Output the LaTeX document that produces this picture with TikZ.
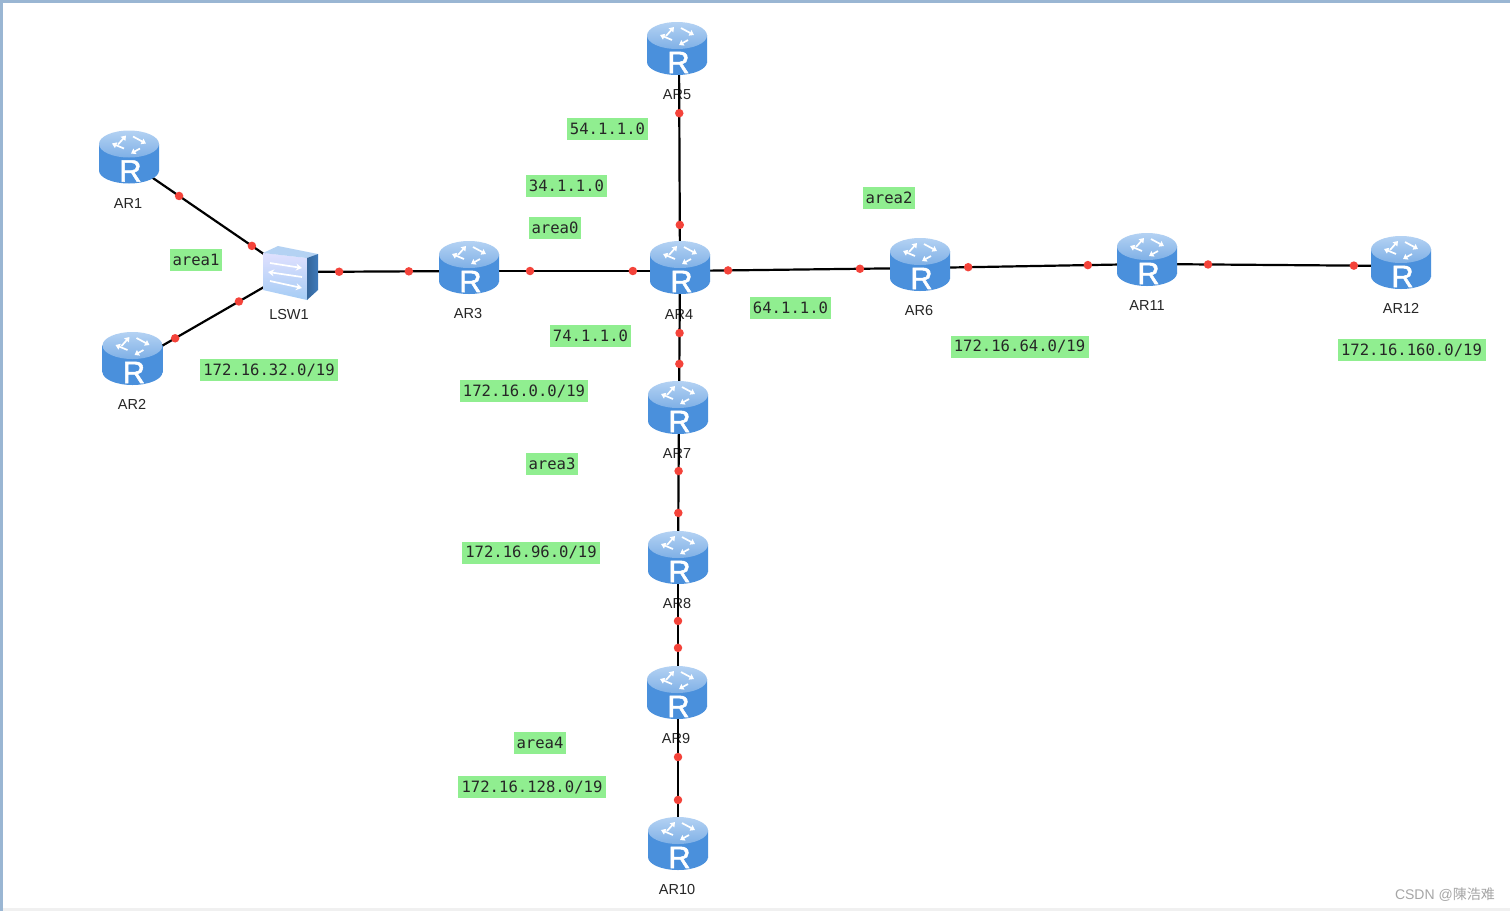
\documentclass[tikz,border=0pt]{standalone}
\usepackage{fontspec}
\setmainfont{Liberation Sans}
\newfontfamily\monofam{DejaVu Sans Mono}
\newfontfamily\cjkfam{Noto Sans CJK SC}
\newfontfamily\rfam[FakeBold=1.6]{Liberation Sans}
\usetikzlibrary{arrows.meta}
\definecolor{linkred}{HTML}{F4433A}
\definecolor{netgreen}{HTML}{90EE90}
\definecolor{framecol}{HTML}{9AB6D3}
\definecolor{rbase}{HTML}{4A90DC}
\definecolor{rmid}{HTML}{7DB6F0}
\definecolor{rtop}{HTML}{B4D2F3}
\definecolor{rtopb}{HTML}{7FB0E6}
\tikzset{
    pics/router/.style = {code = {
        \begin{scope}[shift={(-2,-3)}]
        \shade[left color=rbase, middle color=rmid, right color=rbase]
            (-30,-13.5) rectangle (30,13);
        \shade[left color=rbase, middle color=rmid, right color=rbase]
            (0,13) ellipse (30 and 13);
        \shade[top color=rtop, bottom color=rtopb] (0,-13.5) ellipse (30 and 13.5);
        \draw[rarrow] (-11,-13) -- (-3,-22);
        \draw[rarrow] (4,-21) -- (17,-14);
        \draw[rarrow] (11,-9) -- (2,-4);
        \draw[rarrow] (-5,-9) -- (-17,-14);
        \node[white, inner sep=0, font=\fontsize{31}{31}\rfam] (-r) at (1.5,13.5) {R};
        \end{scope}
    }},
    rarrow/.style = {white, line width=1.7pt, -{Triangle[width=6pt,length=4.5pt]}}
}
\begin{document}
\begin{tikzpicture}[
    x = 1pt, y = -1pt,
    hub/.style = {inner sep=0, minimum size=0},
    devname/.style = {inner sep=0, yshift=-.7pt, text=black!85, font=\fontsize{14.5}{16}\selectfont},
    net/.style = {fill=netgreen, inner sep=0, minimum height=22, text=black!85,
        text width=#1pt, align=center, font=\fontsize{15.6}{16}\monofam},
    link/.style = {black, line width=2.2pt},
    dot/.style = {circle, fill=linkred, inner sep=0, minimum size=8.5},
    swarrow/.style = {white, line width=1.7pt, >={Stealth[length=6pt,width=7pt]}}
    ]
    \useasboundingbox (0,0) rectangle (1510,911);
    \fill[white] (0,0) rectangle (1510,911);
    \fill[black!6] (0,908) rectangle (1510,911);
    \fill[framecol] (0,0) rectangle (1510,2.5);
    \fill[framecol] (0,0) rectangle (2.5,911);

    %nodes
    \node[hub] (AR1) at (131,163) {};
    \node[hub] (AR2) at (134,362) {};
    \node[hub] (LSW1) at (290,272) {};
    \node[hub] (AR3) at (471,271) {};
    \node[hub] (AR4) at (680,271) {};
    \node[hub] (AR5) at (679,52) {};
    \node[hub] (AR6) at (922,268) {};
    \node[hub] (AR7) at (679,411) {};
    \node[hub] (AR8) at (678,561) {};
    \node[hub] (AR9) at (678,696) {};
    \node[hub] (AR10) at (678,847) {};
    \node[hub] (AR11) at (1149,264) {};
    \node[hub] (AR12) at (1403,266) {};

    % names
    \node[devname] (nAR1) at (128,203) {AR1};
    \node[devname] (nAR2) at (132,404) {AR2};
    \node[devname] (nLSW1) at (289,314) {LSW1};
    \node[devname] (nAR3) at (468,313) {AR3};
    \node[devname] (nAR4) at (679,314) {AR4};
    \node[devname] (nAR5) at (677,94) {AR5};
    \node[devname] (nAR6) at (919,310) {AR6};
    \node[devname] (nAR7) at (677,453) {AR7};
    \node[devname] (nAR8) at (677,603) {AR8};
    \node[devname] (nAR9) at (676,738) {AR9};
    \node[devname] (nAR10) at (677,889) {AR10};
    \node[devname] (nAR11) at (1147,305) {AR11};
    \node[devname] (nAR12) at (1401,308) {AR12};

    % networks
    \node[net=81] (n54) at (607.5,129) {54.1.1.0};
    \node[net=81] (n34) at (566.5,186) {34.1.1.0};
    \node[net=81] (n64) at (790.5,307.5) {64.1.1.0};
    \node[net=81] (n74) at (590.5,336) {74.1.1.0};
    \node[net=52] (area0) at (555,228) {area0};
    \node[net=52] (area1) at (196,260) {area1};
    \node[net=52] (area2) at (889,198) {area2};
    \node[net=52] (area3) at (552,464) {area3};
    \node[net=52] (area4) at (540,743) {area4};
    \node[net=128] (n0) at (524,391) {172.16.0.0/19};
    \node[net=138] (n32) at (269,370) {172.16.32.0/19};
    \node[net=138] (n64b) at (1019.5,346.5) {172.16.64.0/19};
    \node[net=138] (n96) at (531,552.5) {172.16.96.0/19};
    \node[net=148] (n128) at (532,787) {172.16.128.0/19};
    \node[net=148] (n160) at (1411.5,350) {172.16.160.0/19};

    % edges
    \draw[link] (AR1) -- node[dot,pos=.302] (d1a) {} node[dot,pos=.761] (d1b) {} (LSW1);
    \draw[link] (AR2) -- node[dot,pos=.263] (d2a) {} node[dot,pos=.673] (d2b) {} (LSW1);
    \draw[link] (LSW1) -- node[dot,pos=.271] (d3a) {} node[dot,pos=.657] (d3b) {} (AR3);
    \draw[link] (AR3) -- node[dot,pos=.282] (d4a) {} node[dot,pos=.775] (d4b) {} (AR4);
    \draw[link] (AR4) -- node[dot,pos=.198] (d5a) {} node[dot,pos=.744] (d5b) {} (AR6);
    \draw[link] (AR6) -- node[dot,pos=.203] (d6a) {} node[dot,pos=.731] (d6b) {} (AR11);
    \draw[link] (AR11) -- node[dot,pos=.232] (d7a) {} node[dot,pos=.807] (d7b) {} (AR12);
    \draw[link] (AR5) -- node[dot,pos=.279] (d8a) {} node[dot,pos=.790] (d8b) {} (AR4);
    \draw[link] (AR4) -- node[dot,pos=.443] (d9a) {} node[dot,pos=.664] (d9b) {} (AR7);
    \draw[link] (AR7) -- node[dot,pos=.400] (d10a) {} node[dot,pos=.680] (d10b) {} (AR8);
    \draw[link] (AR8) -- node[dot,pos=.444] (d11a) {} node[dot,pos=.644] (d11b) {} (AR9);
    \draw[link] (AR9) -- node[dot,pos=.404] (d12a) {} node[dot,pos=.689] (d12b) {} (AR10);

    % icons
    \foreach \r/\dx/\dy in {AR1/0/-2.5,AR2/.5/0,AR3/0/0,AR4/2/0,AR5/0/0,AR6/0/0,AR7/1/0,
            AR8/2/0,AR9/1/0,AR10/2/0,AR11/0/-1,AR12/0/0}
        \pic (i\r) at ([shift={(\dx,\dy)}]\r) {router};

    % switch
    \begin{scope}[shift={(LSW1)}]
        \shade[top color=black!2!blue!12!white, bottom color=rmid!70]
            (-27,-19) -- (17,-14) -- (17,28) -- (-27,18) -- cycle;
        \fill[rtop] (-27,-19) -- (-12,-26) -- (28,-18) -- (17,-14) -- cycle;
        \shade[left color=rbase!70!black, right color=rbase!85!black]
            (17,-14) -- (28,-18) -- (28,18) -- (17,28) -- cycle;
        \draw[swarrow, ->] (-20,-9) -- (12,-4);
        \draw[swarrow, <-] (-22,0) -- (12,5);
        \draw[swarrow, ->] (-20,9) -- (12,16);
    \end{scope}

    \node[anchor=east, inner sep=0, text=black!35, font=\fontsize{14}{16}\selectfont] (mark)
        at (1495,895) {CSDN @{\cjkfam 陳浩难}};
\end{tikzpicture}
\end{document}
